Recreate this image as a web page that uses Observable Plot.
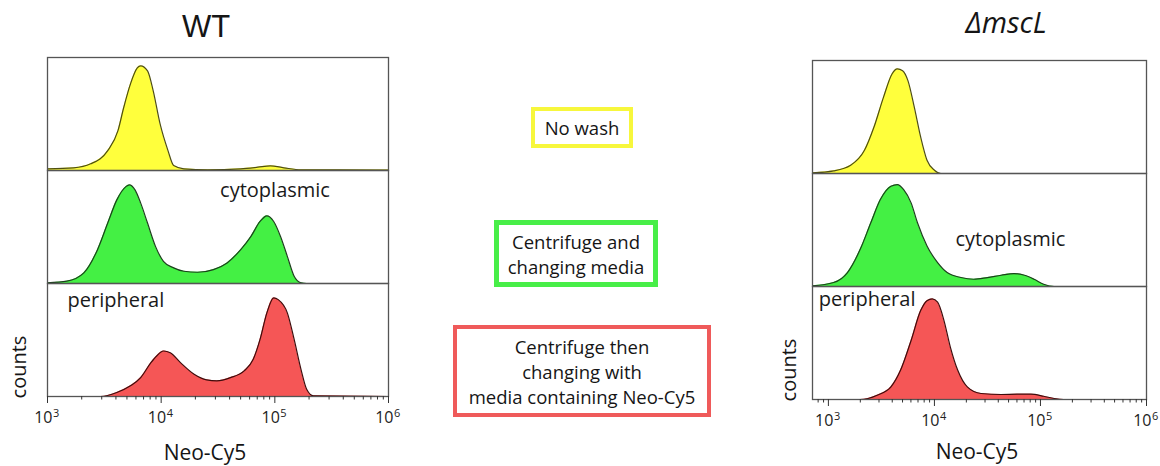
<!DOCTYPE html>
<html><head><meta charset="utf-8">
<script src="https://cdn.jsdelivr.net/npm/d3@7"></script>
<script src="https://cdn.jsdelivr.net/npm/@observablehq/plot@0.6"></script>
<style>
body{margin:0;background:#fff;}
#root{position:relative;width:1160px;height:466px;overflow:hidden;font-family:"Open Sans",sans-serif;color:#151515;}
.abs{position:absolute;white-space:nowrap;line-height:1;}
.box{position:absolute;box-sizing:border-box;border-style:solid;display:flex;align-items:center;justify-content:center;text-align:center;font-size:18.5px;line-height:25px;}
.plot{position:absolute;top:0;overflow:visible;}
</style></head><body><div id="root"></div><script>
// categories (rows of each panel)
const rows = ["No wash", "Centrifuge and changing media", "Centrifuge then changing with media containing Neo-Cy5"];
const boxLines = [["No wash"], ["Centrifuge and", "changing media"], ["Centrifuge then", "changing with", "media containing Neo-Cy5"]];
const panelTitles = ["WT", "ΔmscL"];
const xLabel = "Neo-Cy5";
const yLabel = "counts";
const annotations = ["cytoplasmic", "peripheral"];

// tick values and labels (base 10 with exponent)
const decadeTicks = [1e3, 1e4, 1e5, 1e6];
const decadeExponents = ["3", "4", "5", "6"];
const minorTicksWT = [2e3,3e3,4e3,5e3,6e3,7e3,8e3,9e3,2e4,3e4,4e4,5e4,6e4,7e4,8e4,9e4,2e5,3e5,4e5,5e5,6e5,7e5,8e5,9e5];
const minorTicksMscL = [800,900,2e3,3e3,4e3,5e3,6e3,7e3,8e3,9e3,2e4,3e4,4e4,5e4,6e4,7e4,8e4,9e4,2e5,3e5,4e5,5e5,6e5,7e5,8e5,9e5];

// WT histograms: log10(Neo-Cy5) and counts (arbitrary units)
const wtNoWashLog   = [3.00,3.23,3.38,3.53,3.62,3.67,3.73,3.79,3.82,3.88,3.93,3.99,4.06,4.11,4.20,4.41,4.70,4.85,4.96,5.08,5.23,6.00];
const wtNoWashCount = [1.7,2.7,6.7,20,40,63,87,103,105,100,80,47,20,5,1.7,0.7,1.7,3.3,4.7,2.7,0.7,0.5];
const wtCentLog     = [3.00,3.17,3.32,3.44,3.53,3.61,3.69,3.72,3.77,3.82,3.88,3.95,4.02,4.11,4.20,4.32,4.46,4.58,4.70,4.79,4.87,4.93,4.99,5.05,5.11,5.17,5.23,5.28,6.00];
const wtCentCount   = [0.7,2.3,10.7,34,60.7,84,97.3,99,94,80.7,60.7,37.3,22.3,15.7,12.3,11.3,14,20.7,34,47.3,62.3,68,62.3,47.3,27.3,7.3,0.7,0,0];
const wtNeoLog      = [3.00,3.47,3.61,3.73,3.82,3.91,3.96,4.02,4.08,4.17,4.29,4.40,4.49,4.61,4.73,4.81,4.87,4.93,4.99,5.03,5.11,5.17,5.23,5.28,5.34,6.00];
const wtNeoCount    = [0,0,4,10.7,19,34,40.7,45.7,44,34,22.3,16.7,15.7,19,25.7,37.3,57.3,84,99,97.3,84,57.3,27.3,7.3,0.7,0];

// ΔmscL histograms
const mNoWashLog    = [2.85,3.05,3.21,3.34,3.43,3.52,3.60,3.65,3.70,3.75,3.81,3.87,3.93,4.00,4.06,6.00];
const mNoWashCount  = [0.7,2.7,8.3,23.3,46.7,76.7,100,105,103.3,93.3,66.7,36.7,13.3,3.3,0,0];
const mCentLog      = [2.85,3.05,3.18,3.30,3.40,3.49,3.59,3.65,3.71,3.78,3.84,3.93,4.03,4.12,4.25,4.37,4.50,4.63,4.75,4.85,4.94,5.03,5.13,6.00];
const mCentCount    = [0.7,4,14,37.3,64,87.3,100.7,102.3,97.3,84,64,40.7,24,14,9,7.3,9,11.3,13,11.3,7.3,2.3,0,0];
const mNeoLog       = [2.85,3.30,3.46,3.59,3.68,3.78,3.87,3.93,3.98,4.03,4.09,4.15,4.22,4.31,4.44,4.63,4.78,4.91,5.03,5.13,5.22,6.00];
const mNeoCount     = [0,0,4.3,12.7,29.3,59.3,89.3,99.3,101,97.7,79.3,52.7,29.3,12.7,6,5,5.3,5.3,3.3,1,0,0];

const fills   = ["#ffff3c", "#44f044", "#f55656"];
const strokes = ["#4e4e12", "#1c401c", "#3e0c0c"];
const boxColors = ["#f7f73c", "#48ee48", "#ef5a5a"];

const root = document.getElementById("root");

function buildSeries(logs, counts) {
  return logs.map((lg, k) => lg.map((v, i) => ({x: Math.pow(10, v), y: counts[k][i], row: rows[k]})));
}

function panel(o) {
  const series = buildSeries(o.logs, o.counts);
  const tickData = decadeTicks.map((v, i) => ({x: v, exp: decadeExponents[i], row: rows[2]}));
  const marks = [];
  series.forEach((s, k) => {
    marks.push(Plot.areaY(s, {x: "x", y: "y", fy: "row", fill: fills[k], curve: "monotone-x"}));
    marks.push(Plot.lineY(s, {x: "x", y: "y", fy: "row", stroke: strokes[k], strokeWidth: 1.2, curve: "monotone-x"}));
  });
  marks.push(Plot.frame({stroke: "#555", strokeWidth: 1.3}));
  marks.push(Plot.axisX({ticks: decadeTicks, tickSize: 7, tickFormat: () => "", label: null, stroke: "#333"}));
  marks.push(Plot.axisX({ticks: o.minor, tickSize: 3.5, tickFormat: () => "", label: null, stroke: "#333"}));
  // tick labels: "10" with a raised exponent
  marks.push(Plot.text(tickData, {x: "x", fy: "row", text: () => "10", frameAnchor: "bottom", lineAnchor: "bottom", textAnchor: "end", dx: 5, dy: 26, fontSize: 16, fill: "#222"}));
  marks.push(Plot.text(tickData, {x: "x", fy: "row", text: "exp", frameAnchor: "bottom", lineAnchor: "bottom", textAnchor: "start", dx: 5.5, dy: 20, fontSize: 11, fill: "#222"}));
  marks.push(Plot.text(o.notes, {x: "x", y: "y", fy: "row", text: "text", textAnchor: "start", lineAnchor: "middle", fontSize: 20, fill: "#1a1a1a"}));
  const svg = Plot.plot({
    width: o.width, height: 466,
    marginLeft: o.ml, marginRight: o.mr, marginTop: o.mt, marginBottom: o.mb,
    x: {type: "log", domain: o.domain},
    y: {domain: [0, 113.5], axis: null},
    fy: {domain: rows, padding: 0, axis: null},
    style: {fontFamily: "'Open Sans', sans-serif", fontSize: "13px", color: "#222", background: "none", overflow: "visible"},
    marks
  });
  svg.classList.add("plot");
  svg.style.left = o.left + "px";
  root.appendChild(svg);
}

panel({
  left: 0, width: 400, ml: 47, mr: 12, mt: 56, mb: 69,
  domain: [1e3, 1e6], minor: minorTicksWT,
  logs: [wtNoWashLog, wtCentLog, wtNeoLog], counts: [wtNoWashCount, wtCentCount, wtNeoCount],
  notes: [
    {row: rows[1], x: 3.3e4, y: 93, text: annotations[0]},
    {row: rows[2], x: 1.5e3, y: 96, text: annotations[1]}
  ]
});
panel({
  left: 760, width: 400, ml: 52, mr: 14, mt: 60, mb: 67,
  domain: [Math.pow(10, 2.85), 1e6], minor: minorTicksMscL,
  logs: [mNoWashLog, mCentLog, mNeoLog], counts: [mNoWashCount, mCentCount, mNeoCount],
  notes: [
    {row: rows[1], x: 1.58e4, y: 47, text: annotations[0]},
    {row: rows[2], x: 810, y: 100, text: annotations[1]}
  ]
});

function addText(txt, css) {
  const d = document.createElement("div");
  d.className = "abs";
  d.textContent = txt;
  Object.assign(d.style, css);
  root.appendChild(d);
}
addText(panelTitles[0], {left: "206px", top: "11px", transform: "translateX(-50%)", fontFamily: "'Liberation Sans', Arial, sans-serif", fontSize: "31px"});
addText(panelTitles[1], {left: "1006px", top: "7px", transform: "translateX(-50%)", fontSize: "29px", fontStyle: "italic"});
addText(xLabel, {left: "205px", top: "442px", transform: "translateX(-50%)", fontSize: "21px"});
addText(xLabel, {left: "977px", top: "441px", transform: "translateX(-50%)", fontSize: "21px"});
addText(yLabel, {left: "19px", top: "367px", transform: "translate(-50%,-50%) rotate(-90deg)", fontSize: "20px"});
addText(yLabel, {left: "789px", top: "370px", transform: "translate(-50%,-50%) rotate(-90deg)", fontSize: "20px"});

const boxes = [
  {left: 531, top: 107, w: 102, h: 41, bw: 4},
  {left: 494, top: 220, w: 164, h: 67, bw: 5},
  {left: 453, top: 325, w: 258, h: 92, bw: 4}
];
boxes.forEach((b, k) => {
  const d = document.createElement("div");
  d.className = "box";
  Object.assign(d.style, {left: b.left + "px", top: b.top + "px", width: b.w + "px", height: b.h + "px", borderWidth: b.bw + "px", borderColor: boxColors[k]});
  d.innerHTML = boxLines[k].join("<br>");
  root.appendChild(d);
});
</script></body></html>
